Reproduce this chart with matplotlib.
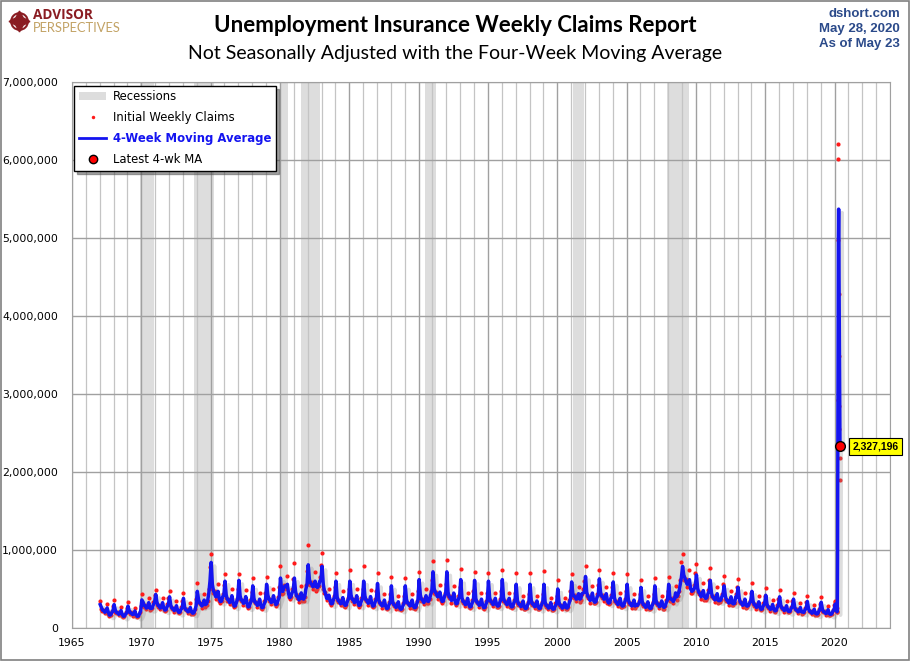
import numpy as np
import pandas as pd
import matplotlib.pyplot as plt
import matplotlib.dates as mdates
import matplotlib.patheffects as pe
from matplotlib.patches import Rectangle, Patch
from matplotlib.lines import Line2D

# Recessions (NBER)
rec_start = ["1969-12-01", "1973-11-01", "1980-01-01", "1981-07-01", "1990-07-01", "2001-03-01", "2007-12-01"]
rec_end = ["1970-11-30", "1975-03-31", "1980-07-31", "1982-11-30", "1991-03-31", "2001-11-30", "2009-06-30"]

# 4-week moving average, monthly readings 1967-2019 (thousands)
ma_k = [
    [300, 265, 230, 223, 202, 214, 258, 202, 165, 168, 198, 215],
    [300, 230, 200, 194, 176, 186, 224, 176, 150, 153, 180, 195],
    [280, 224, 195, 189, 172, 181, 218, 172, 150, 153, 180, 220],
    [360, 334, 290, 281, 255, 270, 325, 255, 250, 255, 300, 325],
    [430, 334, 290, 281, 255, 270, 325, 255, 230, 235, 276, 300],
    [400, 293, 255, 247, 224, 237, 286, 224, 200, 204, 240, 260],
    [380, 270, 235, 228, 207, 219, 263, 207, 190, 194, 228, 285],
    [470, 368, 320, 310, 282, 298, 358, 300, 310, 350, 450, 600],
    [840, 560, 480, 450, 400, 410, 470, 380, 340, 345, 400, 420],
    [600, 425, 370, 359, 326, 344, 414, 326, 280, 286, 336, 380],
    [610, 414, 360, 349, 317, 335, 403, 317, 270, 275, 324, 355],
    [540, 380, 330, 320, 290, 307, 370, 290, 260, 265, 312, 345],
    [560, 425, 370, 359, 326, 344, 414, 340, 300, 310, 360, 400],
    [640, 480, 470, 520, 540, 530, 560, 440, 390, 400, 450, 480],
    [640, 470, 410, 400, 360, 380, 450, 380, 370, 400, 500, 560],
    [810, 620, 580, 560, 530, 540, 600, 530, 520, 540, 600, 620],
    [790, 560, 480, 440, 380, 380, 420, 350, 310, 315, 370, 400],
    [600, 400, 350, 340, 310, 325, 390, 310, 290, 296, 348, 380],
    [600, 425, 370, 359, 326, 344, 414, 326, 290, 296, 348, 380],
    [600, 414, 360, 349, 317, 335, 403, 317, 280, 286, 336, 370],
    [570, 368, 320, 310, 282, 298, 358, 282, 250, 255, 300, 330],
    [540, 345, 300, 291, 264, 279, 336, 264, 240, 245, 288, 320],
    [540, 368, 320, 310, 282, 298, 358, 282, 260, 265, 312, 360],
    [620, 425, 370, 359, 326, 344, 414, 350, 340, 370, 430, 470],
    [720, 506, 460, 440, 400, 410, 460, 380, 340, 347, 408, 440],
    [720, 460, 400, 388, 352, 372, 448, 352, 310, 316, 372, 400],
    [620, 391, 340, 330, 299, 316, 381, 299, 270, 275, 324, 360],
    [610, 380, 330, 320, 290, 307, 370, 290, 260, 265, 312, 350],
    [600, 391, 340, 330, 299, 316, 381, 299, 280, 286, 336, 365],
    [620, 391, 340, 330, 299, 316, 381, 299, 270, 275, 324, 350],
    [560, 357, 310, 301, 273, 288, 347, 273, 250, 255, 300, 330],
    [560, 357, 310, 301, 273, 288, 347, 273, 250, 255, 300, 330],
    [560, 334, 290, 281, 255, 270, 325, 255, 240, 245, 288, 310],
    [500, 334, 290, 281, 255, 270, 325, 265, 255, 270, 330, 370],
    [590, 440, 410, 400, 370, 380, 440, 370, 380, 440, 450, 460],
    [660, 460, 410, 388, 352, 372, 448, 352, 330, 337, 396, 420],
    [630, 460, 410, 400, 370, 380, 440, 350, 320, 326, 384, 400],
    [590, 391, 340, 330, 299, 316, 381, 299, 280, 286, 336, 365],
    [560, 368, 320, 310, 282, 298, 358, 282, 300, 290, 312, 340],
    [520, 345, 300, 291, 264, 279, 336, 264, 250, 255, 300, 330],
    [540, 357, 310, 301, 273, 288, 347, 280, 265, 280, 330, 360],
    [560, 390, 370, 365, 340, 370, 450, 400, 430, 470, 560, 650],
    [790, 680, 640, 600, 560, 580, 620, 500, 470, 480, 500, 540],
    [680, 510, 460, 440, 400, 420, 480, 400, 380, 388, 440, 470],
    [610, 450, 400, 388, 360, 372, 440, 352, 350, 357, 400, 430],
    [540, 410, 360, 350, 320, 335, 400, 320, 310, 316, 400, 400],
    [520, 380, 330, 320, 290, 307, 370, 290, 280, 290, 320, 345],
    [470, 345, 300, 291, 264, 279, 336, 264, 240, 245, 288, 310],
    [420, 310, 270, 262, 238, 251, 302, 238, 220, 224, 264, 290],
    [400, 293, 255, 247, 224, 237, 286, 224, 210, 214, 252, 270],
    [370, 270, 235, 228, 207, 219, 263, 207, 205, 200, 234, 255],
    [340, 247, 215, 209, 189, 200, 241, 189, 180, 184, 216, 240],
    [330, 242, 210, 204, 185, 195, 235, 185, 175, 179, 210, 235],
]

# Initial weekly claims, monthly readings 1967-2019 (thousands)
claims_k = [
    [345, 240, 220, 235, 190, 220, 310, 180, 155, 170, 220, 280],
    [360, 205, 190, 205, 165, 190, 270, 160, 140, 155, 200, 255],
    [335, 200, 185, 200, 160, 185, 260, 155, 140, 155, 200, 280],
    [430, 300, 275, 295, 240, 280, 390, 230, 240, 260, 330, 420],
    [490, 300, 275, 295, 240, 280, 390, 230, 220, 235, 305, 390],
    [470, 265, 240, 260, 210, 245, 345, 200, 190, 205, 265, 340],
    [450, 245, 225, 240, 195, 225, 315, 185, 180, 195, 250, 370],
    [580, 330, 305, 325, 260, 305, 430, 270, 295, 350, 495, 780],
    [955, 505, 455, 470, 370, 420, 560, 340, 325, 345, 440, 545],
    [690, 380, 350, 375, 305, 355, 495, 295, 265, 285, 370, 495],
    [690, 375, 340, 365, 295, 345, 485, 285, 255, 275, 355, 460],
    [640, 340, 315, 335, 270, 315, 445, 260, 245, 265, 345, 450],
    [660, 380, 350, 375, 305, 355, 495, 305, 285, 310, 395, 520],
    [790, 430, 445, 545, 500, 545, 670, 395, 370, 400, 495, 625],
    [830, 425, 390, 420, 335, 390, 540, 340, 350, 400, 550, 730],
    [1065, 560, 550, 590, 495, 555, 720, 475, 495, 540, 660, 805],
    [960, 505, 455, 460, 355, 390, 505, 315, 295, 315, 405, 520],
    [700, 360, 335, 355, 290, 335, 470, 280, 275, 295, 385, 495],
    [750, 380, 350, 375, 305, 355, 495, 295, 275, 295, 385, 495],
    [790, 375, 340, 365, 295, 345, 485, 285, 265, 285, 370, 480],
    [705, 330, 305, 325, 260, 305, 430, 255, 240, 255, 330, 430],
    [650, 310, 285, 305, 245, 285, 405, 240, 230, 245, 315, 415],
    [640, 330, 305, 325, 260, 305, 430, 255, 245, 265, 345, 470],
    [720, 380, 350, 375, 305, 355, 495, 315, 325, 370, 475, 610],
    [860, 455, 435, 460, 370, 420, 550, 340, 325, 345, 450, 570],
    [870, 415, 380, 405, 325, 385, 540, 315, 295, 315, 410, 520],
    [760, 350, 325, 345, 280, 325, 455, 270, 255, 275, 355, 470],
    [720, 340, 315, 335, 270, 315, 445, 260, 245, 265, 345, 455],
    [710, 350, 325, 345, 280, 325, 455, 270, 265, 285, 370, 475],
    [750, 350, 325, 345, 280, 325, 455, 270, 255, 275, 355, 455],
    [700, 320, 295, 315, 255, 295, 415, 245, 240, 255, 330, 430],
    [710, 320, 295, 315, 255, 295, 415, 245, 240, 255, 330, 430],
    [730, 300, 275, 295, 240, 280, 390, 230, 230, 245, 315, 405],
    [620, 300, 275, 295, 240, 280, 390, 240, 240, 270, 365, 480],
    [690, 395, 390, 420, 345, 390, 530, 335, 360, 440, 495, 600],
    [790, 415, 390, 405, 325, 385, 540, 315, 315, 335, 435, 545],
    [740, 415, 390, 420, 345, 390, 530, 315, 305, 325, 420, 520],
    [710, 350, 325, 345, 280, 325, 455, 270, 265, 285, 370, 475],
    [690, 330, 305, 325, 260, 305, 430, 255, 285, 290, 345, 440],
    [620, 310, 285, 305, 245, 285, 405, 240, 240, 255, 330, 430],
    [640, 320, 295, 315, 255, 295, 415, 250, 250, 280, 365, 470],
    [660, 350, 350, 385, 315, 380, 540, 360, 410, 470, 615, 845],
    [955, 610, 610, 630, 520, 600, 745, 450, 445, 480, 550, 700],
    [820, 460, 435, 460, 370, 435, 575, 360, 360, 390, 485, 610],
    [770, 405, 380, 405, 335, 385, 530, 315, 335, 355, 440, 560],
    [670, 370, 340, 365, 300, 345, 480, 290, 295, 315, 440, 520],
    [630, 340, 315, 335, 270, 315, 445, 260, 265, 290, 350, 450],
    [580, 310, 285, 305, 245, 285, 405, 240, 230, 245, 315, 405],
    [510, 280, 255, 275, 220, 260, 360, 215, 210, 225, 290, 375],
    [490, 265, 240, 260, 210, 245, 345, 200, 200, 215, 275, 350],
    [450, 245, 225, 240, 195, 225, 315, 185, 195, 200, 255, 330],
    [410, 220, 205, 220, 175, 205, 290, 170, 170, 185, 240, 310],
    [400, 220, 200, 215, 170, 200, 280, 165, 165, 180, 230, 300],
]

# 2020, weekly (thousands)
weeks_2020 = ["2020-01-04", "2020-01-11", "2020-01-18", "2020-01-25", "2020-02-01", "2020-02-08",
              "2020-02-15", "2020-02-22", "2020-02-29", "2020-03-07", "2020-03-14", "2020-03-21",
              "2020-03-28", "2020-04-04", "2020-04-11", "2020-04-18", "2020-04-25", "2020-05-02",
              "2020-05-09", "2020-05-16", "2020-05-23"]
claims_2020 = [330, 348, 281, 243, 243, 228, 218, 212, 202, 200, 251, 2920, 6015, 6211, 4971,
               4281, 3489, 2849, 2546, 2175, 1899]
ma_2020 = [265, 300, 305, 300, 279, 249, 233, 225, 215, 208, 216, 893, 2347, 3849, 5029,
           5370, 4738, 3898, 3291, 2765, 2327.196]

latest_label = "2,327,196"

# assemble series
months = pd.date_range("1967-01-01", "2019-12-01", freq="MS") + pd.Timedelta(days=14)
dates = list(months) + list(pd.to_datetime(weeks_2020))
ma = np.concatenate([np.ravel(ma_k), ma_2020]) * 1000
claims = np.concatenate([np.ravel(claims_k), claims_2020]) * 1000

fig = plt.figure(figsize=(9.1, 6.61), dpi=100)
ax = fig.add_axes([72 / 910, 33 / 661, 818 / 910, 546 / 661])

# recessions (grid drawn over them)
for s, e in zip(rec_start, rec_end):
    ax.axvspan(pd.Timestamp(s), pd.Timestamp(e), color="#DDDDDD", lw=0, zorder=0.2)

ax.plot(dates, claims, ls="none", marker="o", ms=3, mew=0, color="#FF1A1A", zorder=3)
ax.plot(dates, ma, color="#1414F0", lw=2.5, zorder=4,
        path_effects=[pe.SimpleLineShadow(offset=(2.5, -2.5), shadow_color="#909090", alpha=0.3),
                      pe.Normal()])

ax.plot(dates[-1], ma[-1], marker="o", ms=7, mfc="#FF0000", mec="black", mew=1, zorder=6)
ax.annotate(latest_label, (dates[-1], ma[-1]), xytext=(9, 0), textcoords="offset points",
            va="center", ha="left", fontsize=7.5, fontweight="bold", family="Liberation Sans",
            annotation_clip=False,
            bbox=dict(boxstyle="square,pad=0.3", fc="#FFFF00", ec="black", lw=0.8),
            zorder=7)

ax.set_xlim(pd.Timestamp("1965-01-01"), pd.Timestamp("2024-01-01"))
ax.set_ylim(0, 7000000)
ax.xaxis.set_major_locator(mdates.YearLocator(5))
ax.xaxis.set_minor_locator(mdates.YearLocator(1))
ax.xaxis.set_major_formatter(mdates.DateFormatter("%Y"))
ax.set_yticks(np.arange(0, 7000001, 1000000))
ax.yaxis.set_major_formatter(plt.FuncFormatter(lambda v, p: f"{int(v):,}"))
ax.grid(which="minor", axis="x", color="#C4C4C4", lw=0.9)
ax.grid(which="major", axis="x", color="#A0A0A0", lw=1.0)
ax.grid(which="major", axis="y", color="#A0A0A0", lw=1.0)
ax.set_axisbelow(True)
ax.tick_params(which="both", length=0, labelsize=7.8, colors="black")
ax.tick_params(axis="y", pad=10)
ax.tick_params(axis="x", pad=7)
for sp in ax.spines.values():
    sp.set_color("#A0A0A0")

# legend
handles = [Patch(fc="#DDDDDD", ec="none"),
           Line2D([], [], ls="none", marker="o", ms=2.5, mew=0, color="#FF1A1A"),
           Line2D([], [], color="#1414F0", lw=2),
           Line2D([], [], ls="none", marker="o", ms=6, mfc="#FF0000", mec="black")]
labels = ["Recessions", "Initial Weekly Claims", "4-Week Moving Average", "Latest 4-wk MA"]
leg = ax.legend(handles, labels, loc="upper left", bbox_to_anchor=(0.003, 0.993), borderaxespad=0,
                fancybox=False, shadow=True, framealpha=1, edgecolor="black", fontsize=8.4,
                handlelength=2.3, handletextpad=0.6, labelspacing=0.68, borderpad=0.4)
leg.get_frame().set_linewidth(1)
leg.get_texts()[2].set_color("#1414F0")
leg.get_texts()[2].set_fontweight("bold")

# titles
fig.text(0.5, 1 - 25 / 661, "Unemployment Insurance Weekly Claims Report", ha="center", va="center",
         fontsize=16, fontweight="bold", family="Lato")
fig.text(0.5, 1 - 53 / 661, "Not Seasonally Adjusted with the Four-Week Moving Average", ha="center",
         va="center", fontsize=14, family="Lato")

# top right
for i, t in enumerate(["dshort.com", "May 28, 2020", "As of May 23"]):
    fig.text(900 / 910, 1 - (14 + 15 * i) / 661, t, ha="right", va="center", fontsize=9.5,
             fontweight="bold", family="Liberation Sans", color="#2B4A8A")

# logo
fig.text(33 / 910, 1 - 15 / 661, "ADVISOR", ha="left", va="center", fontsize=9.8, fontweight="bold",
         family="Open Sans", color="#8A1C22")
fig.text(33 / 910, 1 - 28 / 661, "PERSPECTIVES", ha="left", va="center", fontsize=9.3,
         family="Lato", color="#C2A264")
fig.lines.append(Line2D([19 / 910], [1 - 21 / 661], transform=fig.transFigure, marker="o", ms=12,
                        mfc="none", mec="#8A1C22", mew=1.5))
fig.lines.append(Line2D([19 / 910], [1 - 21 / 661], transform=fig.transFigure, marker=(4, 1, 0), ms=15,
                        color="#8A1C22"))

fig.patches.append(Rectangle((0.001, 0.001), 0.998, 0.998, transform=fig.transFigure, fill=False,
                             ec="#808080", lw=1.2))

fig.savefig("out.png", dpi=100)
